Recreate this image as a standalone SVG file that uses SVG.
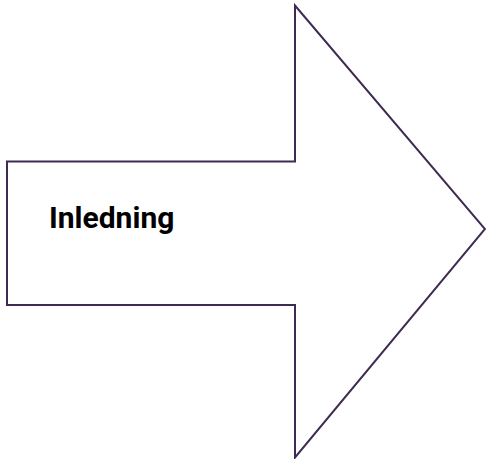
<svg xmlns="http://www.w3.org/2000/svg" width="486" height="459" viewBox="0 0 486 459">
<style>
.shape{fill:#ffffff;stroke:#3f2b52;stroke-width:2;stroke-linejoin:miter}
.label{font-family:Roboto,"Liberation Sans",sans-serif;font-weight:bold;font-size:30px;fill:#000000}
</style>
<rect width="486" height="459" fill="#ffffff"/>
<g id="node-inledning">
<polygon class="shape" points="7,161.5 295,161.5 295,5.5 485,229 295,457.5 295,305 7,305"/>
<text class="label" x="49" y="228">Inledning</text>
</g>
</svg>
